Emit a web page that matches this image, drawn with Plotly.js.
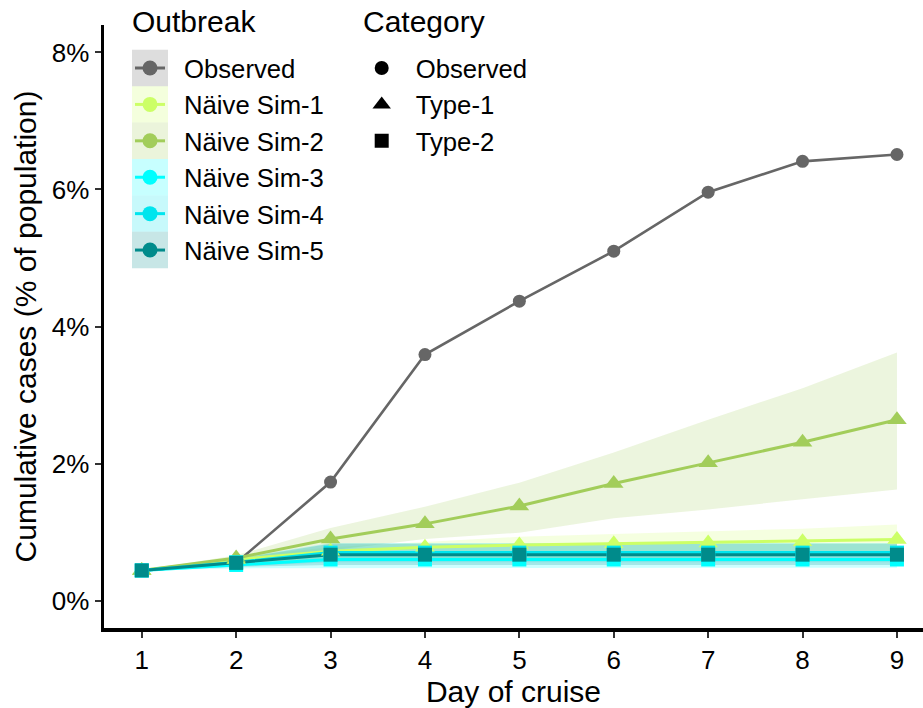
<!DOCTYPE html>
<html>
<head>
<meta charset="utf-8">
<script src="https://cdn.plot.ly/plotly-3.0.1.min.js"></script>
<style>
  html, body { margin: 0; padding: 0; background: #ffffff; }
  #chart { width: 923px; height: 708px; }
</style>
</head>
<body>
<div id="chart"></div>
<script>
// Day of cruise
const days = [1, 2, 3, 4, 5, 6, 7, 8, 9];

// Cumulative cases, % of population
const observed = [0.44, 0.55, 1.73, 3.59, 4.37, 5.10, 5.96, 6.41, 6.51];

const sim1 = [0.44, 0.60, 0.72, 0.78, 0.81, 0.83, 0.84, 0.86, 0.89];
const sim1Lower = [0.44, 0.54, 0.58, 0.60, 0.61, 0.62, 0.63, 0.64, 0.65];
const sim1Upper = [0.44, 0.64, 0.78, 0.86, 0.93, 0.97, 1.01, 1.05, 1.11];

const sim2 = [0.44, 0.62, 0.90, 1.12, 1.38, 1.71, 2.01, 2.31, 2.64];
const sim2Lower = [0.44, 0.57, 0.74, 0.90, 0.99, 1.20, 1.33, 1.48, 1.62];
const sim2Upper = [0.44, 0.66, 1.06, 1.37, 1.72, 2.16, 2.64, 3.10, 3.62];

const sim3 = [0.44, 0.52, 0.60, 0.60, 0.60, 0.60, 0.60, 0.60, 0.60];
const sim3Lower = [0.44, 0.47, 0.48, 0.48, 0.48, 0.48, 0.48, 0.48, 0.48];
const sim3Upper = [0.44, 0.57, 0.70, 0.70, 0.70, 0.70, 0.70, 0.70, 0.70];

const sim4 = [0.44, 0.56, 0.70, 0.70, 0.70, 0.70, 0.70, 0.70, 0.70];
const sim4Lower = [0.44, 0.50, 0.56, 0.56, 0.56, 0.56, 0.56, 0.56, 0.56];
const sim4Upper = [0.44, 0.62, 0.84, 0.84, 0.84, 0.84, 0.84, 0.84, 0.84];

const sim5 = [0.44, 0.55, 0.67, 0.67, 0.67, 0.67, 0.67, 0.67, 0.67];
const sim5Lower = [0.44, 0.49, 0.52, 0.52, 0.52, 0.52, 0.52, 0.52, 0.52];
const sim5Upper = [0.44, 0.61, 0.83, 0.83, 0.83, 0.83, 0.83, 0.83, 0.83];

// Outbreak legend
const outbreakTitle = 'Outbreak';
const outbreakNames = ['Observed', 'Näive Sim-1', 'Näive Sim-2', 'Näive Sim-3', 'Näive Sim-4', 'Näive Sim-5'];
const outbreakColors = ['#666666', '#ccff66', '#a2cd5a', '#00ffff', '#00e5ee', '#008b8b'];
const outbreakSymbols = ['circle', 'triangle-up', 'triangle-up', 'square', 'square', 'square'];

// Category legend
const categoryTitle = 'Category';
const categoryNames = ['Observed', 'Type-1', 'Type-2'];
const categorySymbols = ['circle', 'triangle-up', 'square'];

// Axis ticks
const yTicks = [0, 2, 4, 6, 8];

const means = [observed, sim1, sim2, sim3, sim4, sim5];
const lowers = [null, sim1Lower, sim2Lower, sim3Lower, sim4Lower, sim5Lower];
const uppers = [null, sim1Upper, sim2Upper, sim3Upper, sim4Upper, sim5Upper];

const FONT = 'Liberation Sans, Arial, Helvetica, sans-serif';
const W = 923, H = 708;
const M = { l: 104, r: 0, t: 25, b: 80 };
const plotW = W - M.l - M.r, plotH = H - M.t - M.b;
const pxToPaperX = px => (px - M.l) / plotW;
const pxToPaperY = py => (H - M.b - py) / plotH;

function rgba(hex, a) {
  const n = parseInt(hex.slice(1), 16);
  return `rgba(${(n >> 16) & 255},${(n >> 8) & 255},${n & 255},${a})`;
}

const markerSize = { 'circle': 13, 'triangle-up': 17, 'square': 14 };
const traces = [];

// Uncertainty ribbons
means.forEach((m, i) => {
  if (!lowers[i]) return;
  traces.push({
    type: 'scatter', mode: 'lines', showlegend: false, hoverinfo: 'skip',
    x: days.concat(days.slice().reverse()),
    y: uppers[i].concat(lowers[i].slice().reverse()),
    fill: 'toself', fillcolor: rgba(outbreakColors[i], 0.2),
    line: { width: 0 }
  });
});

// Lines
means.forEach((m, i) => {
  traces.push({
    type: 'scatter', mode: 'lines', showlegend: false, name: outbreakNames[i],
    x: days, y: m,
    line: { color: outbreakColors[i], width: i === 0 ? 2.6 : 3 }
  });
});

// Points
means.forEach((m, i) => {
  traces.push({
    type: 'scatter', mode: 'markers', showlegend: false, name: outbreakNames[i],
    x: days, y: m,
    marker: { color: outbreakColors[i], symbol: outbreakSymbols[i], size: markerSize[outbreakSymbols[i]] }
  });
});

// Legend entries: outbreak
outbreakNames.forEach((name, i) => {
  traces.push({
    type: 'scatter', mode: 'markers', name: name, legend: 'legend',
    x: [null], y: [null],
    marker: { color: outbreakColors[i], symbol: 'circle', size: 15 }
  });
});

// Legend entries: category
categoryNames.forEach((name, i) => {
  traces.push({
    type: 'scatter', mode: 'markers', name: name, legend: 'legend2',
    x: [null], y: [null],
    marker: { color: '#000000', symbol: categorySymbols[i], size: categorySymbols[i] === 'triangle-up' ? 16 : 14 }
  });
});

// Legend geometry (pixels)
const LEG_FONT = 25.7;
const ROW_H = LEG_FONT * 1.3 + 3;
const ROW0 = 68;
const ITEM_W = 58;
const ICON_OFFSET = (ITEM_W + 10) / 2;
const OUT_KEY_X = 150, CAT_KEY_X = 381.7;
const LEG_TOP = ROW0 - ROW_H / 2 - 5;

// Shaded key backgrounds and key line segments for the outbreak legend
const shapes = [];
outbreakColors.forEach((c, i) => {
  const yc = ROW0 + ROW_H * i;
  shapes.push({
    type: 'rect', xref: 'paper', yref: 'paper', layer: 'above',
    x0: pxToPaperX(OUT_KEY_X - 18), x1: pxToPaperX(OUT_KEY_X + 18),
    y0: pxToPaperY(yc - ROW_H / 2), y1: pxToPaperY(yc + ROW_H / 2),
    fillcolor: rgba(c, 0.22), line: { width: 0 }
  });
  shapes.push({
    type: 'line', xref: 'paper', yref: 'paper', layer: 'above',
    x0: pxToPaperX(OUT_KEY_X - 15), x1: pxToPaperX(OUT_KEY_X + 15),
    y0: pxToPaperY(yc), y1: pxToPaperY(yc),
    line: { color: c, width: 3 }
  });
});

// Legend titles
const titleFont = { family: FONT, size: 30, color: '#000000' };
const annotations = [
  { text: outbreakTitle, x: pxToPaperX(131), xanchor: 'left' },
  { text: categoryTitle, x: pxToPaperX(361.5), xanchor: 'left' }
].map(a => Object.assign(a, {
  xref: 'paper', yref: 'paper', y: pxToPaperY(22), yanchor: 'middle',
  showarrow: false, font: titleFont, borderpad: 0
}));

const legendBase = {
  xanchor: 'left', yanchor: 'top',
  bgcolor: 'rgba(0,0,0,0)', borderwidth: 0,
  font: { family: FONT, size: LEG_FONT, color: '#000000' },
  itemwidth: ITEM_W, tracegroupgap: 0,
  itemclick: false, itemdoubleclick: false
};

const layout = {
  width: W, height: H,
  margin: M,
  paper_bgcolor: '#ffffff', plot_bgcolor: '#ffffff',
  font: { family: FONT, color: '#000000' },
  showlegend: true,
  xaxis: {
    range: [0.6, 0.6 + plotW / 94.4],
    tickvals: days, ticktext: days.map(String),
    showgrid: false, zeroline: false,
    showline: true, linecolor: '#000000', linewidth: 3.5,
    ticks: 'outside', ticklen: 6, tickwidth: 2, tickcolor: '#333333',
    tickfont: { family: FONT, size: 26, color: '#000000' },
    title: { text: 'Day of cruise', font: { family: FONT, size: 30, color: '#000000' } }
  },
  yaxis: {
    range: [-0.4, 8.4],
    tickvals: yTicks, ticktext: yTicks.map(v => v + '%'),
    showgrid: false, zeroline: false,
    showline: true, linecolor: '#000000', linewidth: 3.5,
    ticks: 'outside', ticklen: 6, tickwidth: 2, tickcolor: '#333333',
    tickfont: { family: FONT, size: 26, color: '#000000' },
    title: { text: 'Cumulative cases (% of population)', standoff: 7, font: { family: FONT, size: 30, color: '#000000' } }
  },
  legend: Object.assign({}, legendBase, {
    x: pxToPaperX(OUT_KEY_X - ICON_OFFSET), y: pxToPaperY(LEG_TOP)
  }),
  legend2: Object.assign({}, legendBase, {
    x: pxToPaperX(CAT_KEY_X - ICON_OFFSET), y: pxToPaperY(LEG_TOP)
  }),
  shapes: shapes,
  annotations: annotations
};

Plotly.newPlot('chart', traces, layout, { staticPlot: true, displayModeBar: false });
</script>
</body>
</html>
